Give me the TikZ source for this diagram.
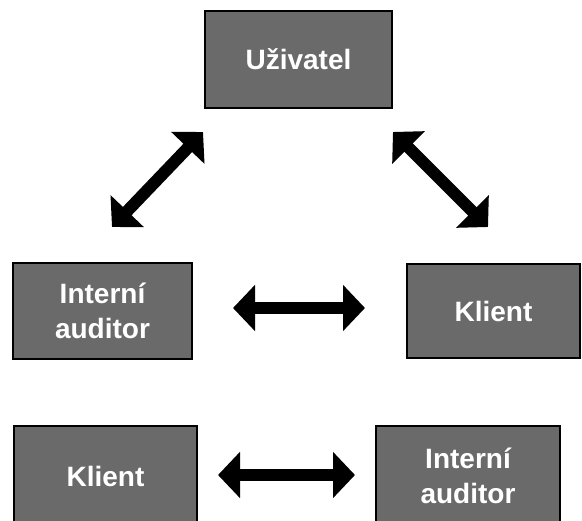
\documentclass[tikz,border=0pt]{standalone}
\usepackage{fontspec}
\setmainfont{Liberation Sans}
\usetikzlibrary{arrows.meta}
\definecolor{boxgray}{RGB}{106,106,106}
\tikzset{
  box/.style={draw=black, line width=2.2pt, fill=boxgray, text=white,
    font=\bfseries\fontsize{28}{35}\selectfont, align=center, inner sep=0pt},
  dbl/.style={line width=12pt, {Triangle[length=22pt,width=45pt]}-{Triangle[length=22pt,width=45pt]}}
}
\begin{document}
\begin{tikzpicture}[x=1pt,y=-1pt]
  \useasboundingbox (0,0) rectangle (582,521);
  % role boxes (the lower row runs past the page edge)
  \node[box, minimum width=187pt, minimum height=97pt] (user) at (298.5,59.5) {Uživatel};
  \node[box, minimum width=179pt, minimum height=96pt] (auditA) at (102.5,311) {Interní\\auditor};
  \node[box, minimum width=173pt, minimum height=94pt] (clientA) at (493.5,311) {Klient};
  \node[box, minimum width=183pt, minimum height=100pt] (clientB) at (105.5,476) {Klient};
  \node[box, minimum width=184pt, minimum height=100pt] (auditB) at (468,476) {Interní\\auditor};
  % arrow end points
  \coordinate (dl1) at (203,132);
  \coordinate (dl2) at (112,227);
  \coordinate (dr1) at (393,132);
  \coordinate (dr2) at (488,227);
  \coordinate (m1) at (233,308);
  \coordinate (m2) at (365,308);
  \coordinate (b1) at (218,475);
  \coordinate (b2) at (355,475);
  % two-way relations
  \draw[dbl] (dl1) -- (dl2);
  \draw[dbl] (dr1) -- (dr2);
  \draw[dbl] (m1) -- (m2);
  \draw[dbl] (b1) -- (b2);
\end{tikzpicture}
\end{document}
